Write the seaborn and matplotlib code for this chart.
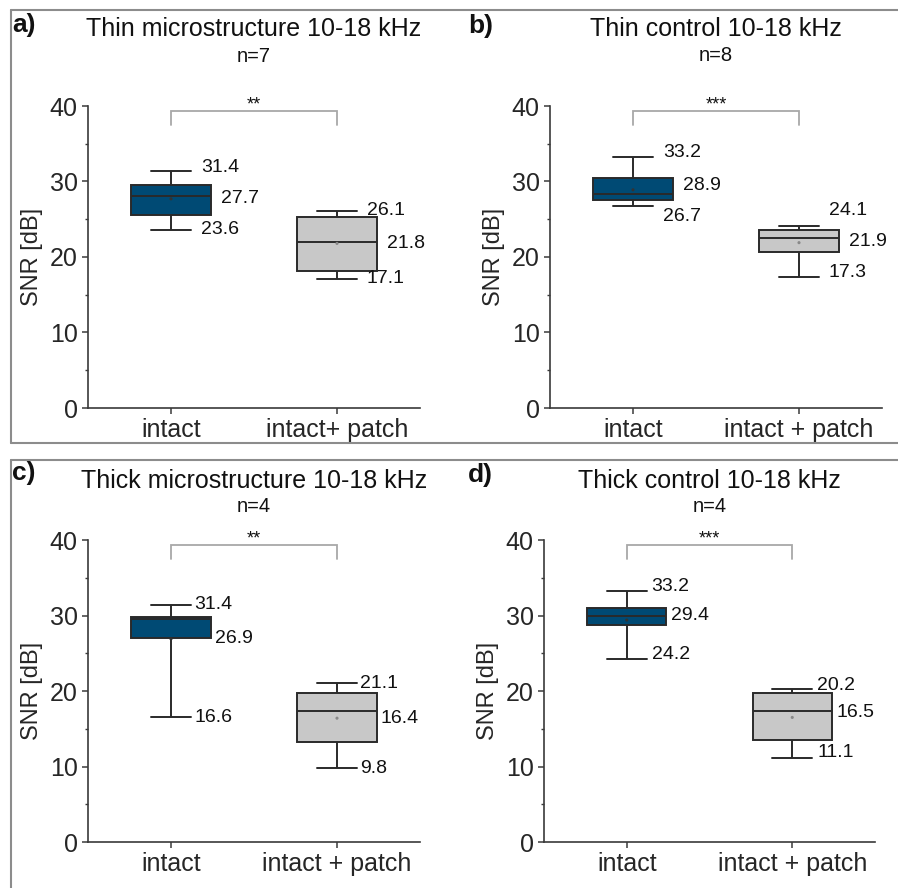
import numpy as np
import pandas as pd
import seaborn as sns
import matplotlib
matplotlib.use("Agg")
import matplotlib.pyplot as plt
from matplotlib.lines import Line2D
from matplotlib.ticker import MultipleLocator

# ---------------- data ----------------
panel_letters = ["a)", "b)", "c)", "d)"]
panel_titles = ["Thin microstructure 10-18 kHz", "Thin control 10-18 kHz",
                "Thick microstructure 10-18 kHz", "Thick control 10-18 kHz"]
panel_n = ["n=7", "n=8", "n=4", "n=4"]
panel_stars = ["**", "***", "**", "***"]
categories = ["intact", "intact + patch"]
tick_labels = [["intact", "intact+ patch"], ["intact", "intact + patch"],
               ["intact", "intact + patch"], ["intact", "intact + patch"]]

# five-number summaries [min, q1, median, q3, max]
intact_a = [23.6, 25.6, 28.1, 29.5, 31.4]
patch_a = [17.1, 18.1, 22.0, 25.3, 26.1]
intact_b = [26.7, 27.6, 28.3, 30.5, 33.2]
patch_b = [17.3, 20.7, 22.5, 23.6, 24.1]
intact_c = [16.6, 27.0, 29.6, 29.8, 31.4]
patch_c = [9.8, 13.3, 17.4, 19.7, 21.1]
intact_d = [24.2, 28.7, 30.0, 31.0, 33.2]
patch_d = [11.1, 13.5, 17.4, 19.7, 20.2]

# means
means_a = [27.7, 21.8]
means_b = [28.9, 21.9]
means_c = [26.9, 16.4]
means_d = [29.4, 16.5]

intact_all = [intact_a, intact_b, intact_c, intact_d]
patch_all = [patch_a, patch_b, patch_c, patch_d]
means_all = [means_a, means_b, means_c, means_d]

# ---------------- style ----------------
sns.set_theme(style="ticks")
plt.rcParams["font.family"] = ["Liberation Sans", "DejaVu Sans"]
plt.rcParams["text.color"] = "#111111"

BLUE = "#004a74"
GREY = "#c8c8c8"
EDGE = "#2a2a2a"
AXC = "#3a3a3a"

W, H = 898, 888
fig = plt.figure(figsize=(W / 100, H / 100), dpi=100)

def fx(px):
    return px / W

def fy(py):
    return 1 - py / H

# axes rectangles in pixels: left, top, right, bottom
rects = [(88, 106, 420, 408), (550, 106, 882, 408),
         (88, 540, 420, 842), (544, 540, 875, 842)]
title_y = [(36, 62), (36, 61), (488, 512), (488, 512)]
letter_pos = [(12, 32), (468, 33), (12, 480), (468, 482)]
# label x offsets (whisker labels, mean label)
lab_dx = [(0.18, 0.30), (0.18, 0.30), (0.14, 0.265), (0.15, 0.27)]
# label y nudges [max, mean, min] per group
lab_dy = [
    [[0.4, 0.0, 0.0], [0.0, 0.0, 0.0]],
    [[0.6, 0.6, -1.4], [2.0, 0.1, 0.6]],
    [[0.0, 0.0, -0.1], [-0.1, 0.0, 0.0]],
    [[0.6, 0.6, 0.6], [0.5, 0.6, 0.7]],
]

for i in range(4):
    l, t, r, b = rects[i]
    ax = fig.add_axes([fx(l), fy(b), fx(r) - fx(l), fy(t) - fy(b)])
    df = pd.DataFrame({
        "group": [categories[0]] * 5 + [categories[1]] * 5,
        "snr": intact_all[i] + patch_all[i],
    })
    sns.boxplot(data=df, x="group", y="snr", hue="group", order=categories,
                hue_order=categories, palette=[BLUE, GREY], legend=False,
                width=0.48, whis=(0, 100), showfliers=False, saturation=1,
                linewidth=1.4, linecolor=EDGE, ax=ax)
    # mean dots
    ax.scatter([0, 1], means_all[i], s=5, color=["#333333", "#888888"],
               zorder=5, linewidths=0)
    # value labels
    dxw, dxm = lab_dx[i]
    for g, stats in enumerate([intact_all[i], patch_all[i]]):
        vals = [stats[4], means_all[i][g], stats[0]]
        dxs = [dxw, dxm, dxw]
        for k in range(3):
            ax.text(g + dxs[k], vals[k] + lab_dy[i][g][k], f"{vals[k]:.1f}",
                    fontsize=14, ha="left", va="center", clip_on=False)
    # significance bracket
    ax.plot([0, 0, 1, 1], [37.5, 39.3, 39.3, 37.5], color="#a8a8a8",
            lw=1.3, clip_on=False, solid_joinstyle="miter")
    ax.text(0.5, 40.2, panel_stars[i], ha="center", va="center",
            fontsize=13, clip_on=False)

    ax.set_xlim(-0.5, 1.5)
    ax.set_ylim(0, 40)
    ax.set_yticks([0, 10, 20, 30, 40])
    ax.yaxis.set_minor_locator(MultipleLocator(5))
    ax.set_xticks([0, 1])
    ax.set_xticklabels(tick_labels[i])
    ax.set_xlabel("")
    ax.set_ylabel("SNR [dB]", fontsize=17, labelpad=5)
    ax.tick_params(axis="both", which="major", labelsize=18, length=4.5,
                   width=1.1, color=AXC, direction="out", pad=3)
    ax.tick_params(axis="y", which="minor", length=2.5, width=1.0, color=AXC)
    for s in ["top", "right"]:
        ax.spines[s].set_visible(False)
    for s in ["left", "bottom"]:
        ax.spines[s].set_color(AXC)
        ax.spines[s].set_linewidth(1.2)

    # titles
    cx = fx((l + r) / 2)
    fig.text(cx, fy(title_y[i][0]), panel_titles[i], ha="center",
             va="baseline", fontsize=18)
    fig.text(cx, fy(title_y[i][1]), panel_n[i], ha="center",
             va="baseline", fontsize=14.5)
    lx, ly = letter_pos[i]
    fig.text(fx(lx), fy(ly), panel_letters[i], ha="left", va="baseline",
             fontsize=19, fontweight="bold")

# panel frames
FR = "#8c8c8c"
for xs, ys in [([11, 898], [10, 10]), ([11, 11], [10, 443]),
               ([11, 898], [443, 443]), ([11, 898], [460, 460]),
               ([11, 11], [460, 888])]:
    fig.add_artist(Line2D([fx(x) for x in xs], [fy(y) for y in ys],
                          color=FR, lw=1.5))

fig.savefig("out.png", dpi=100)
